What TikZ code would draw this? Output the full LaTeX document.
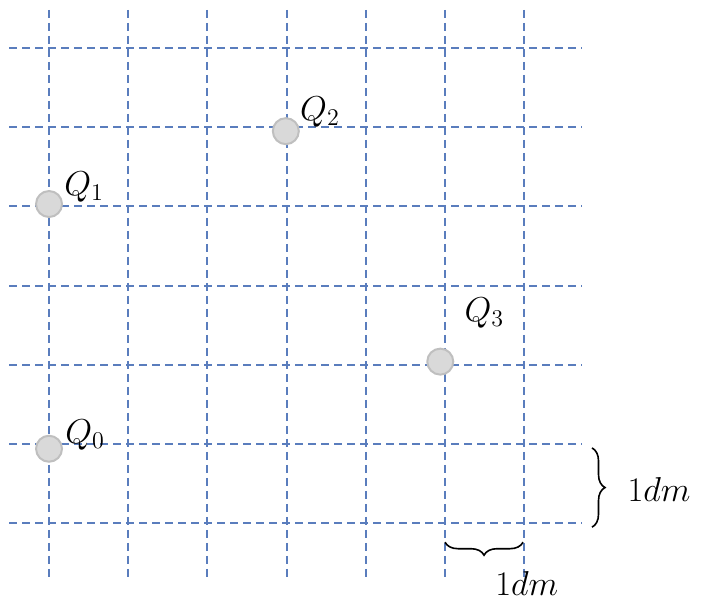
\documentclass[tikz,border=0pt]{standalone}
\usepackage{amsmath}
\usepackage{tikz}
\usetikzlibrary{positioning}
\usetikzlibrary{decorations.pathreplacing}
\definecolor{gridblue}{HTML}{5A7DBD}
\definecolor{dotfill}{HTML}{D9D9D9}
\definecolor{dotedge}{HTML}{BFBFBF}
\tikzset{gridline/.style = {gridblue, dash pattern=on 4pt off 2.5pt, line width=1pt}}
\tikzset{charge/.style = {fill=dotfill, draw=dotedge, line width=1pt, circle, inner sep=0, minimum size=13pt}}
\tikzset{lbl/.style = {inner sep=0, anchor=base west, font=\fontsize{17.5}{20}\selectfont}}
\tikzset{brc/.style = {decorate, decoration={brace, amplitude=6.5pt}, line width=0.8pt}}

\begin{document}
\begin{tikzpicture}[x=39.6pt, y=-39.6pt]
      \useasboundingbox (-0.619, -0.606) rectangle (8.270, 6.970);
      \foreach \k in {0,...,6} {
        \draw [gridline] (\k, -0.48) -- (\k, 6.69);
        \draw [gridline] (-0.505, \k) -- (6.73, \k);
      }
      \foreach \n/\x/\y/\dx/\dy in {0/0/5.06/8pt/2.5pt, 1/0/1.97/7.5pt/4.5pt, 2/2.99/1.05/7pt/5.5pt, 3/4.94/3.96/12pt/20pt} {
        \node [charge] (q\n) at (\x, \y) {};
        \node [lbl] (lq\n) at ([xshift=\dx, yshift=\dy] q\n.center) {$Q_\n$};
      }
      \coordinate (rt) at (6.856, 5.05);
      \coordinate (rb) at (6.856, 6.05);
      \draw [brc] (rt) -- (rb);
      \node [lbl] (vdm) at (7.30, 5.73) {$1dm$};
      \coordinate (br) at (5.985, 6.24);
      \coordinate (bl) at (5.0, 6.24);
      \draw [brc] (br) -- (bl);
      \node [lbl] (hdm) at (5.63, 6.91) {$1dm$};
    \end{tikzpicture}
\end{document}
